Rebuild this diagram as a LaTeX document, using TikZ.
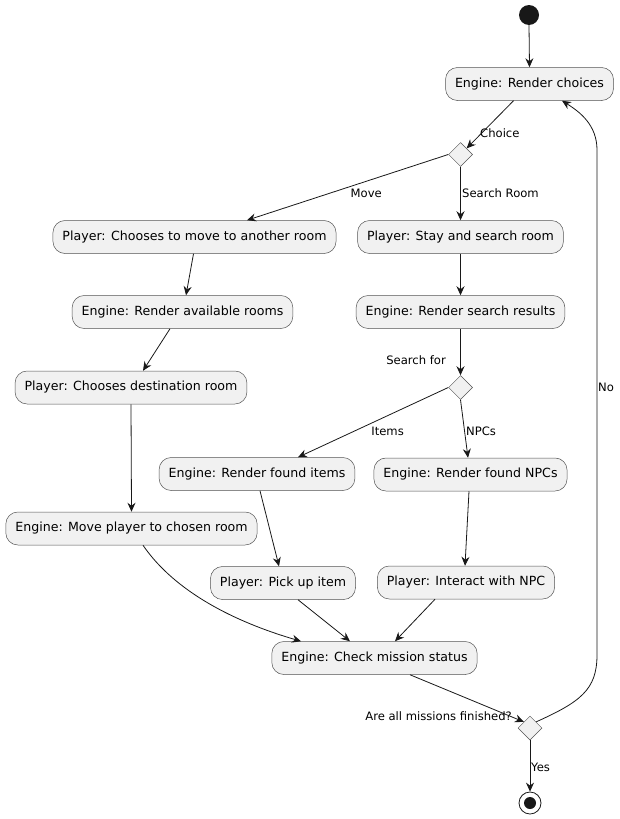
\documentclass[tikz,border=0pt]{standalone}
\usepackage{fontspec}
\setmainfont{DejaVu Sans}
\usetikzlibrary{shapes.geometric}
\usetikzlibrary{arrows.meta}

\definecolor{boxfill}{HTML}{F1F1F1}
\definecolor{ink}{HTML}{181818}

\tikzset{
    act/.style={draw=ink!75, line width=0.5pt, fill=boxfill, rounded corners=12pt,
        minimum height=33pt, inner xsep=9.5pt, font=\fontsize{12.6}{14}\selectfont},
    branch/.style={diamond, aspect=1, draw=ink!75, line width=0.5pt, fill=boxfill,
        minimum width=24pt, minimum height=24pt, inner sep=0pt},
    lbl/.style={font=\fontsize{11.6}{13}\selectfont, inner sep=0pt},
    flow/.style={draw=ink, line width=0.8pt, -{Stealth[length=9pt,width=8pt,inset=3pt]}}
}

\begin{document}
\begin{tikzpicture}[x=1pt, y=-1pt]

    \useasboundingbox (0, 0) rectangle (620, 819);

    % start and end
    \fill[ink] (529, 15) circle (10) coordinate (start);
    \node[circle, minimum size=22pt, draw=ink, line width=0.8pt, inner sep=0pt] (stop) at (530, 803) {};
    \fill[ink] (stop.center) circle (6);

    % activities
    \node[act] (choices) at (529.5, 84) {Engine: Render choices};
    \node[branch] (pick1) at (460.5, 154.5) {};
    \node[act] (move) at (194.5, 237) {Player: Chooses to move to another room};
    \node[act] (stay) at (460.5, 237) {Player: Stay and search room};
    \node[act] (avail) at (182.5, 312) {Engine: Render available rooms};
    \node[act] (results) at (460.5, 312) {Engine: Render search results};
    \node[act] (dest) at (131, 387.5) {Player: Chooses destination room};
    \node[branch] (pick2) at (460.5, 387.5) {};
    \node[act] (items) at (257, 474) {Engine: Render found items};
    \node[act] (npcs) at (470.5, 474.5) {Engine: Render found NPCs};
    \node[act] (goroom) at (131.5, 528.5) {Engine: Move player to chosen room};
    \node[act] (pickup) at (283, 583) {Player: Pick up item};
    \node[act] (talk) at (466, 582.5) {Player: Interact with NPC};
    \node[act] (check) at (374.5, 658) {Engine: Check mission status};
    \node[branch] (pick3) at (530, 728) {};

    % labels
    \node[lbl, anchor=west] (lchoice) at (480, 133) {Choice};
    \node[lbl, anchor=east] (lmove) at (382, 193) {Move};
    \node[lbl, anchor=west] (lsearch) at (462, 193) {Search Room};
    \node[lbl, anchor=east] (lfor) at (446, 360) {Search for};
    \node[lbl, anchor=east] (litems) at (404, 431) {Items};
    \node[lbl, anchor=west] (lnpcs) at (466, 431) {NPCs};
    \node[lbl, anchor=east] (ldone) at (512, 716) {Are all missions finished?};
    \node[lbl, anchor=west] (lyes) at (531, 767) {Yes};
    \node[lbl, anchor=west] (lno) at (598, 387) {No};

    % connectors
    \draw[flow] (start) ++(0, 10) -- (choices.north);
    \draw[flow] ([xshift=-16pt]choices.south) -- (pick1.north east);
    \draw[flow] (pick1.west) -- ([xshift=52.5pt]move.north);
    \draw[flow] (pick1.south) -- (stay.north);
    \draw[flow] ([xshift=-1pt]move.south) -- ([xshift=3.5pt]avail.north);
    \draw[flow] (stay.south) -- (results.north);
    \draw[flow] ([xshift=-12.5pt]avail.south) -- ([xshift=12pt]dest.north);
    \draw[flow] (results.south) -- (pick2.north);
    \draw[flow] (pick2.west) -- ([xshift=41pt]items.north);
    \draw[flow] (pick2.south) -- ([xshift=-2.5pt]npcs.north);
    \draw[flow] (dest.south) -- (goroom.north);
    \draw[flow] ([xshift=3pt]items.south) -- ([xshift=-4pt]pickup.north);
    \draw[flow] ([xshift=-1.5pt]npcs.south) -- ([xshift=-1pt]talk.north);
    \draw[flow] ([xshift=11.5pt]goroom.south) .. controls (175, 592) and (235, 622) .. ([xshift=-73.5pt]check.north);
    \draw[flow] ([xshift=15pt]pickup.south) -- ([xshift=-24.5pt]check.north);
    \draw[flow] ([xshift=-31pt]talk.south) -- ([xshift=20.5pt]check.north);
    \draw[flow] ([xshift=35.5pt]check.south) -- (pick3.north west);
    \draw[flow] (pick3.south) -- (stop.north);
    \draw[flow] (pick3.north east) .. controls (580, 702) and (597, 690) .. (597, 655)
        -- (597, 150) .. controls (597, 125) and (580, 112) .. ([xshift=32.5pt]choices.south);

\end{tikzpicture}
\end{document}
